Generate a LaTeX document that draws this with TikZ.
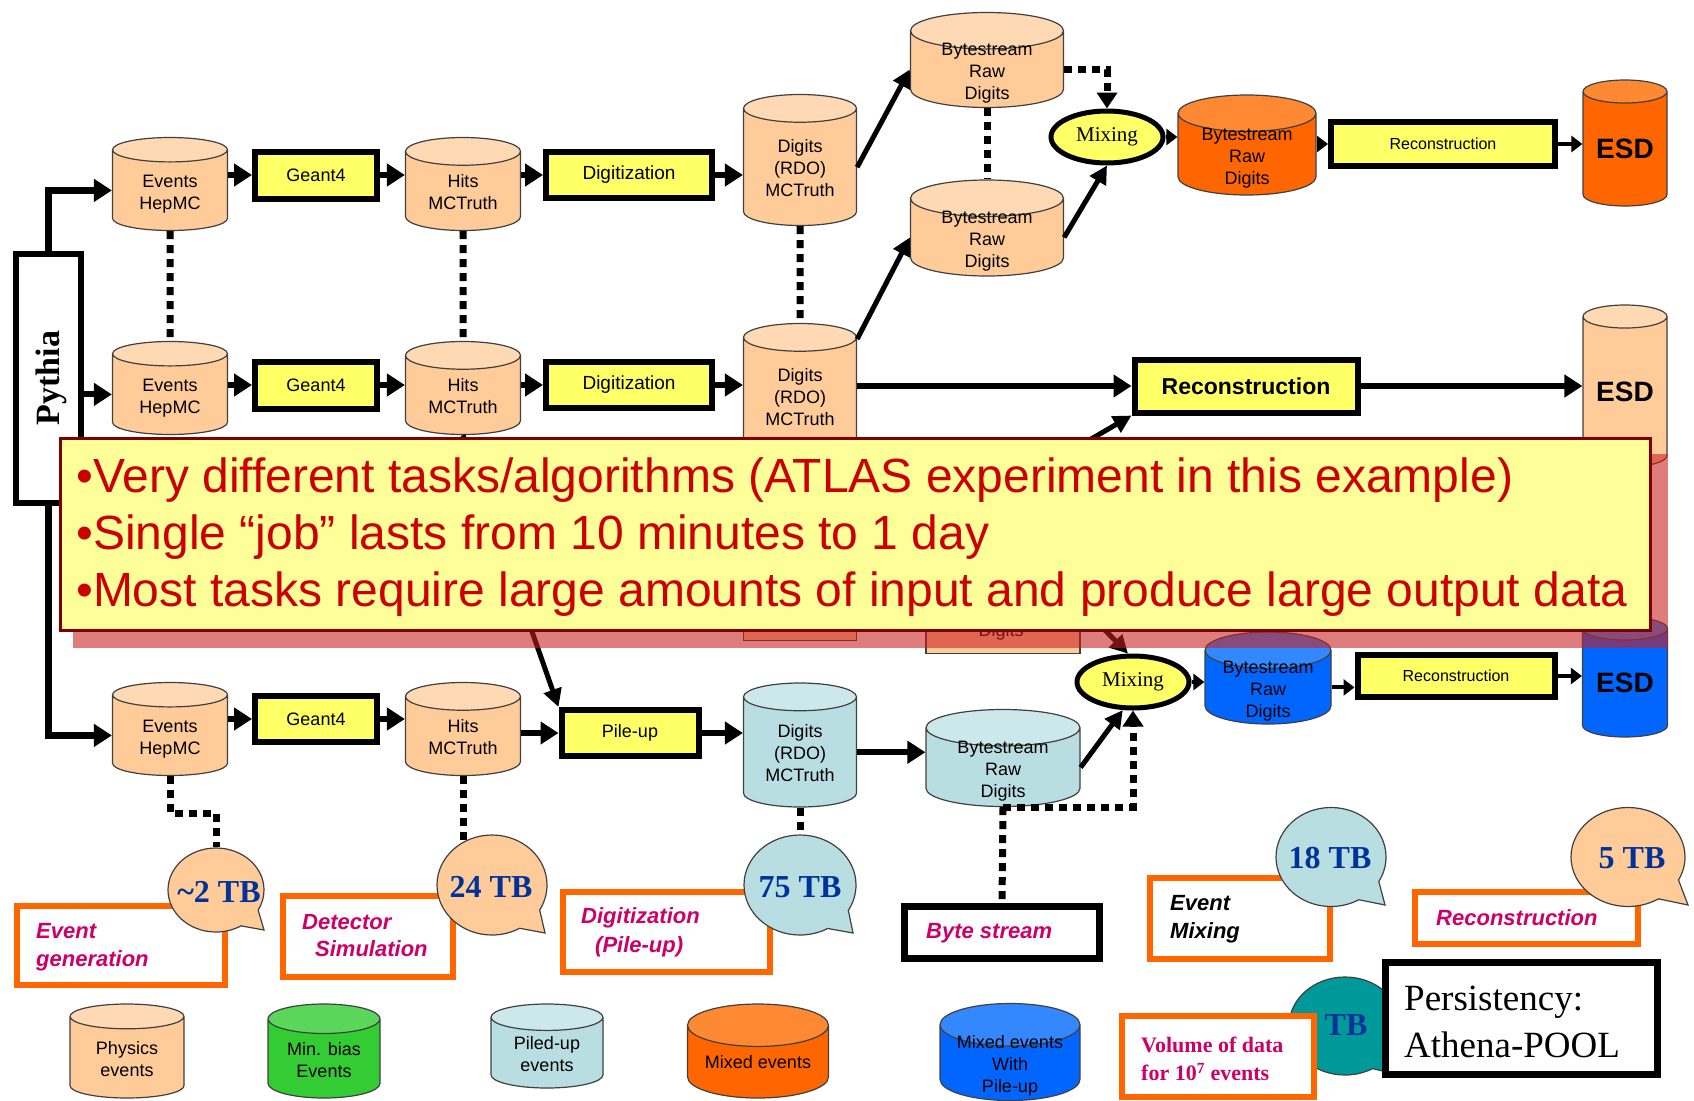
\documentclass[tikz,border=0pt]{standalone}
\usepackage{fontspec}
\setmainfont{Liberation Sans}
\newfontfamily\romanfont{Liberation Serif}
\usetikzlibrary{shapes.geometric,shapes.callouts,arrows.meta}

\definecolor{peach}{RGB}{255,204,153}
\definecolor{peachtop}{RGB}{255,217,179}
\definecolor{lblue}{RGB}{185,222,226}
\definecolor{lbluetop}{RGB}{204,232,235}
\definecolor{dorange}{RGB}{255,102,0}
\definecolor{dorangetop}{RGB}{255,136,51}
\definecolor{dblue}{RGB}{0,102,255}
\definecolor{dbluetop}{RGB}{51,136,255}
\definecolor{dgreen}{RGB}{51,204,51}
\definecolor{dgreentop}{RGB}{90,214,90}
\definecolor{procyellow}{RGB}{255,255,102}
\definecolor{noteyellow}{RGB}{255,255,153}
\definecolor{noteborder}{RGB}{128,0,0}
\definecolor{notered}{RGB}{204,0,0}
\definecolor{shadowred}{RGB}{200,30,30}
\definecolor{labelpink}{RGB}{204,0,102}
\definecolor{tbblue}{RGB}{0,51,153}
\definecolor{tbteal}{RGB}{0,153,153}

% text of a store, kept out of the size of the cylinder
\newcommand\celltext[1]{\smash{\raisebox{-.5\height}{\begin{tabular}[b]{@{}c@{}}#1\end{tabular}}}}

\tikzset{
  store/.style={cylinder, shape border rotate=90, aspect=0.4, draw=black!75, line width=1.2pt,
    cylinder uses custom fill, cylinder body fill=#1, cylinder end fill=#1top, anchor=shape center,
    inner sep=0pt, font=\fontsize{18}{22}\selectfont},
  proc/.style={draw=black, line width=6pt, fill=procyellow, inner sep=0pt, font=\fontsize{18}{22}\selectfont},
  mixer/.style={ellipse, draw=black, line width=5pt, fill=procyellow, inner sep=0pt,
    minimum width=112, minimum height=52, font=\romanfont\fontsize{21}{24}\selectfont},
  flow/.style={line width=6pt, -{Triangle[length=18pt,width=22pt]}},
  slant/.style={line width=5pt, -{Triangle[length=18pt,width=18pt]}},
  hop/.style={line width=4pt, -{Triangle[length=11pt,width=16pt]}},
  datalink/.style={line width=7pt, dash pattern=on 8pt off 6pt},
  tag/.style={draw=#1, line width=6pt, fill=white, inner sep=0pt},
  tag/.default=dorange,
  tagtext/.style={anchor=west, inner sep=0pt, align=left, text=labelpink,
    font=\bfseries\itshape\fontsize{22}{28}\selectfont},
  bubble/.style={ellipse callout, draw=black!75, line width=1.2pt, fill=#1, callout pointer arc=30, inner sep=0pt},
  tbtext/.style={inner sep=0pt, text=tbblue, font=\romanfont\bfseries\fontsize{32}{36}\selectfont},
  notetext/.style={anchor=base west, inner sep=0pt, text=notered, font=\fontsize{48}{57}\selectfont}
}

\begin{document}
\begin{tikzpicture}[x=1pt, y=-1pt]
  \fill[white] (0,0) rectangle (1694,1100);
  \useasboundingbox (0,0) rectangle (1694,1100);

  % Pythia generator
  \node[draw, line width=6pt, fill=white, minimum width=65, minimum height=249] (py) at (48.5,378.5) {};
  \node[rotate=90, inner sep=0pt, font=\romanfont\bfseries\fontsize{34}{40}\selectfont] (pytxt) at (51,378) {Pythia};

  % first chain
  \node[store=peach, minimum width=115, minimum height=93] (ev1) at (170,184) {\celltext{Events\\HepMC}};
  \node[proc, minimum width=122, minimum height=47] (g1) at (316,175) {Geant4};
  \node[store=peach, minimum width=115, minimum height=93] (hit1) at (463,184) {\celltext{Hits\\MCTruth}};
  \node[proc, minimum width=166, minimum height=46, font=\fontsize{19}{22}\selectfont] (dig1) at (629,175) {Digitization};
  \node[store=peach, minimum width=113, minimum height=131] (rdo1) at (800,160) {\celltext{Digits\\(RDO)\\MCTruth}};
  \node[store=peach, minimum width=153, minimum height=95] (bs1a) at (987,60) {\celltext{Bytestream\\Raw\\Digits}};
  \node[store=peach, minimum width=153, minimum height=96] (bs1b) at (987,228) {\celltext{Bytestream\\Raw\\Digits}};
  \node[mixer] (mix1) at (1107,137) {Mixing};
  \node[store=dorange, minimum width=138, minimum height=100] (bs1) at (1247,145) {\celltext{Bytestream\\Raw\\Digits}};
  \node[proc, minimum width=224, minimum height=44, font=\fontsize{16}{20}\selectfont] (rec1) at (1443,144) {Reconstruction};
  \node[store=dorange, minimum width=84, minimum height=126, font=\bfseries\fontsize{28}{30}\selectfont] (esd1) at (1625,143) {ESD};

  \draw[line width=7pt, -{Triangle[length=18pt,width=22pt]}] (py.north) |- (ev1.west);
  \draw[flow] (ev1.east |- g1.west) -- (g1.west);
  \draw[flow] (g1.east) -- (g1.east -| hit1.west);
  \draw[flow] (hit1.east |- dig1.west) -- (dig1.west);
  \draw[flow] (dig1.east) -- (dig1.east -| rdo1.west);
  \draw[slant] (rdo1.east) -- (bs1a.west);
  \draw[slant] (bs1b.east) -- (mix1.south);
  \draw[datalink, -{Triangle[length=16pt,width=20pt]}] (bs1a.east) -| (mix1.north);
  \draw[datalink] (bs1a.south) -- (bs1b.north);
  \draw[hop] (mix1.east) -- (mix1.east -| bs1.west);
  \draw[hop] (bs1.east |- rec1.west) -- (rec1.west);
  \draw[hop] (rec1.east) -- (rec1.east -| esd1.west);

  % second chain
  \node[store=peach, minimum width=115, minimum height=93] (ev2) at (170,388) {\celltext{Events\\HepMC}};
  \node[proc, minimum width=122, minimum height=47] (g2) at (316,385) {Geant4};
  \node[store=peach, minimum width=115, minimum height=93] (hit2) at (463,388) {\celltext{Hits\\MCTruth}};
  \node[proc, minimum width=166, minimum height=46, font=\fontsize{19}{22}\selectfont] (dig2) at (629,385) {Digitization};
  \node[store=peach, minimum width=113, minimum height=131] (rdo2) at (800,389) {\celltext{Digits\\(RDO)\\MCTruth}};
  \node[proc, minimum width=223, minimum height=53, font=\bfseries\fontsize{23}{26}\selectfont] (rec2) at (1246,386) {Reconstruction};
  \node[store=peach, minimum width=84, minimum height=162, font=\bfseries\fontsize{28}{30}\selectfont] (esd2) at (1625,386) {ESD};

  \draw[flow] (py.east |- ev2.west) -- (ev2.west);
  \draw[flow] (ev2.east |- g2.west) -- (g2.west);
  \draw[flow] (g2.east) -- (g2.east -| hit2.west);
  \draw[flow] (hit2.east |- dig2.west) -- (dig2.west);
  \draw[flow] (dig2.east) -- (dig2.east -| rdo2.west);
  \draw[slant] (rdo2.north east) -- (bs1b.west);
  \draw[flow] (rdo2.east |- rec2.west) -- (rec2.west);
  \draw[flow] (rec2.east) -- (rec2.east -| esd2.west);
  \draw[datalink] (ev1.south) -- (ev2.north);
  \draw[datalink] (hit1.south) -- (hit2.north);
  \draw[datalink] (rdo1.south) -- (rdo2.north);

  % chain under the note
  \node[store=peach, minimum width=113, minimum height=131] (rdo3h) at (800,575) {};
  \node[store=peach, minimum width=154, minimum height=97] (bs2h) at (1003,605) {};
  \node[inner sep=0pt, font=\fontsize{18}{22}\selectfont] (bs2htxt) at (1001,632) {Digits};

  % pile-up chain
  \node[store=peach, minimum width=115, minimum height=93] (ev3) at (170,729) {\celltext{Events\\HepMC}};
  \node[proc, minimum width=122, minimum height=46] (g3) at (316,719) {Geant4};
  \node[store=peach, minimum width=115, minimum height=93] (hit3) at (463,729) {\celltext{Hits\\MCTruth}};
  \node[proc, minimum width=137, minimum height=46] (pile) at (630,733) {Pile-up};
  \node[store=lblue, minimum width=113, minimum height=124] (rdo3) at (800,745) {\celltext{Digits\\(RDO)\\MCTruth}};
  \node[store=lblue, minimum width=154, minimum height=97] (bs3) at (1003,758) {\celltext{Bytestream\\Raw\\Digits}};
  \node[mixer] (mix3) at (1133,682) {Mixing};
  \node[store=dblue, minimum width=126, minimum height=92] (bs3b) at (1268,678) {\celltext{Bytestream\\Raw\\Digits}};
  \node[proc, minimum width=197, minimum height=42, font=\fontsize{16}{20}\selectfont] (rec3) at (1456,676) {Reconstruction};
  \node[store=dblue, minimum width=85, minimum height=120, font=\bfseries\fontsize{28}{30}\selectfont] (esd3) at (1625,677) {ESD};

  \draw[slant] (hit2.south) -- (pile.north west);
  \draw[slant] (rdo3h.east) -- (rec2.south west);
  \draw[slant] (bs2h.east) -- (mix3.100);
  \draw[line width=7pt, -{Triangle[length=18pt,width=22pt]}] (py.south) |- (ev3.west);
  \draw[flow] (ev3.east |- g3.west) -- (g3.west);
  \draw[flow] (g3.east) -- (g3.east -| hit3.west);
  \draw[flow] (hit3.east |- pile.west) -- (pile.west);
  \draw[flow] (pile.east) -- (pile.east -| rdo3.west);
  \draw[flow] (rdo3.east) -- (rdo3.east -| bs3.west);
  \draw[slant] (bs3.east) -- (mix3.250);
  \draw[hop] (mix3.east) -- (mix3.east -| bs3b.west);
  \draw[hop] (bs3b.east) -- (bs3b.east -| rec3.west);
  \draw[hop] (rec3.east) -- (rec3.east -| esd3.west);

  % volume tags
  \node[tag, minimum width=208, minimum height=79] (evgen) at (121,945.5) {};
  \node[tag, minimum width=170, minimum height=81] (detsim) at (368,936.5) {};
  \node[tag, minimum width=207, minimum height=80] (digpile) at (666.5,932) {};
  \node[tag=black, line width=7pt, minimum width=195, minimum height=52] (byte) at (1002,932.5) {};
  \node[tag, minimum width=180, minimum height=81] (evmix) at (1240,918.5) {};
  \node[tag, minimum width=223, minimum height=52] (recbox) at (1526.5,918) {};
  \node[tagtext] (evgentxt) at (36,947) {Event\\generation};
  \node[tagtext, font=\bfseries\itshape\fontsize{22}{27}\selectfont] (detsimtxt) at (302,936) {Detector\\\hspace*{13pt}Simulation};
  \node[tagtext, font=\bfseries\itshape\fontsize{22}{29}\selectfont] (digpiletxt) at (581,932) {Digitization\\\hspace*{14pt}(Pile-up)};
  \node[tagtext] (bytetxt) at (926,933) {Byte stream};
  \node[tagtext, text=black] (evmixtxt) at (1170,919) {Event\\Mixing};
  \node[tagtext] (rectxt) at (1436,918) {Reconstruction};

  \node[bubble=peach, minimum width=96, minimum height=84, callout absolute pointer={(264,930)}] (tb2) at (216,890) {};
  \node[bubble=peach, minimum width=110, minimum height=100, callout absolute pointer={(545,933)}] (tb24) at (492,885) {};
  \node[bubble=lblue, minimum width=112, minimum height=100, callout absolute pointer={(853,933)}] (tb75) at (800,885) {};
  \node[bubble=lblue, minimum width=110, minimum height=99, callout absolute pointer={(1385,905)}] (tb18) at (1331,857) {};
  \node[bubble=peach, minimum width=114, minimum height=99, callout absolute pointer={(1688,905)}] (tb5) at (1628,857) {};
  \node[tbtext] (tb2txt) at (219,892) {\textasciitilde2 TB};
  \node[tbtext] (tb24txt) at (491,887) {24 TB};
  \node[tbtext] (tb75txt) at (800,887) {75 TB};
  \node[tbtext] (tb18txt) at (1330,858) {18 TB};
  \node[tbtext] (tb5txt) at (1632,858) {5 TB};

  \draw[datalink] (ev3.south) -- ++(0,37) -| (tb2.north);
  \draw[datalink, shorten >=-10pt] (hit3.south) -- (hit3.south |- tb24.north);
  \draw[datalink] (rdo3.south) -- (tb75.north);
  \draw[datalink] (bs3.south) -- (byte.north);
  \draw[datalink, -{Triangle[length=16pt,width=20pt]}] (bs3.south) -| (mix3.south);

  % persistency corner
  \node[bubble=tbteal, minimum width=112, minimum height=98, callout absolute pointer={(1400,1075)}] (tbpool) at (1345,1026) {};
  \node[tbtext] (tbpooltxt) at (1346,1025) {TB};
  \node[tag, minimum width=192, minimum height=81] (volbox) at (1218,1056.5) {};
  \node[tagtext, font=\romanfont\bfseries\fontsize{22}{28}\selectfont] (voltxt) at (1141,1059) {Volume of data\\for 10\textsuperscript{7} events};
  \node[tag=black, line width=7pt, minimum width=272, minimum height=112] (persist) at (1521.5,1018.5) {};
  \node[anchor=west, inner sep=0pt, align=left, font=\romanfont\fontsize{37}{47}\selectfont] (persisttxt) at (1404,1022) {Persistency:\\Athena-POOL};

  % legend of stores
  \node[store=peach, minimum width=114, minimum height=94] (phys) at (127,1051) {\celltext{Physics\\events}};
  \node[store=dgreen, minimum width=112, minimum height=94] (minb) at (324,1051) {\celltext{Min. bias\\Events}};
  \node[store=lblue, minimum width=112, minimum height=84] (piled) at (547,1046) {\celltext{Piled-up\\events}};
  \node[store=dorange, minimum width=141, minimum height=94] (mixed) at (758,1051) {Mixed events};
  \node[store=dblue, minimum width=140, minimum height=97] (mixpile) at (1010,1052) {\celltext{Mixed events\\With\\Pile-up}};

  % note on top
  \fill[shadowred, opacity=.58] (73,454) rectangle (1668,648);
  \node[draw=noteborder, line width=3pt, fill=noteyellow, minimum width=1590, minimum height=192, inner sep=0pt] (note) at (855.5,534.5) {};
  \node[notetext] (line1) at (76,492) {\textbullet Very different tasks/algorithms (ATLAS experiment in this example)};
  \node[notetext] (line2) at (76,549) {\textbullet Single “job” lasts from 10 minutes to 1 day};
  \node[notetext] (line3) at (76,606) {\textbullet Most tasks require large amounts of input and produce large output data};
\end{tikzpicture}
\end{document}
